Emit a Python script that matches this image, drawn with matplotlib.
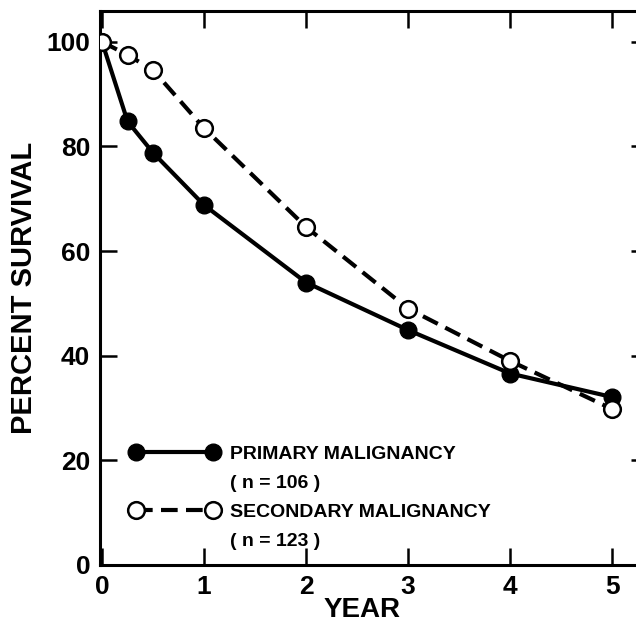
import numpy as np
import matplotlib.pyplot as plt
from matplotlib.lines import Line2D

plt.rcParams['font.family'] = ['Liberation Sans', 'DejaVu Sans']
plt.rcParams['font.weight'] = 'bold'
plt.rcParams['axes.labelweight'] = 'bold'

years = [0, 0.25, 0.5, 1, 2, 3, 4, 5]
primary = [100, 84.8, 78.8, 68.8, 54, 44.9, 36.6, 32.1]
secondary = [100, 97.5, 94.6, 83.5, 64.6, 49, 39, 29.8]

fig = plt.figure(figsize=(6.36, 6.30), dpi=100)
ax = fig.add_axes([100/636, 65/630, 548/636, 554/630])

ax.plot(years, primary, color='black', lw=3, marker='o', ms=12,
        mfc='black', mec='black', zorder=3)
ax.plot(years, secondary, color='black', lw=3, ls=(0, (4, 2)), marker='o', ms=12,
        mfc='white', mec='black', mew=1.8, zorder=4)

ax.set_xlim(-0.02, 5.35)
ax.set_ylim(0, 105.9)
ax.set_xticks([0, 1, 2, 3, 4, 5])
ax.set_yticks([0, 20, 40, 60, 80, 100])
ax.tick_params(direction='in', length=12, width=1.8, labelsize=19,
               top=True, right=True, pad=7)
for s in ax.spines.values():
    s.set_linewidth(2.2)

ax.set_xlabel('YEAR', fontsize=20)
ax.xaxis.set_label_coords(0.478, -0.058)
ax.set_ylabel('PERCENT SURVIVAL', fontsize=21, labelpad=6)

h1 = Line2D([], [], color='black', lw=3, marker='o', ms=12, mfc='black', mec='black')
h2 = Line2D([], [], color='black', lw=3, ls=(0, (4, 2)), marker='o', ms=12,
            mfc='white', mec='black', mew=1.8)
blank = Line2D([], [], color='none')
leg = ax.legend([h1, blank, h2, blank],
                ['PRIMARY MALIGNANCY', '( n = 106 )',
                 'SECONDARY MALIGNANCY', '( n = 123 )'],
                loc='upper left', bbox_to_anchor=(0.04, 0.23), frameon=False,
                fontsize=14, numpoints=2, handlelength=4.6, handletextpad=0.55,
                labelspacing=0.58, borderaxespad=0)

fig.savefig('out.png', dpi=100)
